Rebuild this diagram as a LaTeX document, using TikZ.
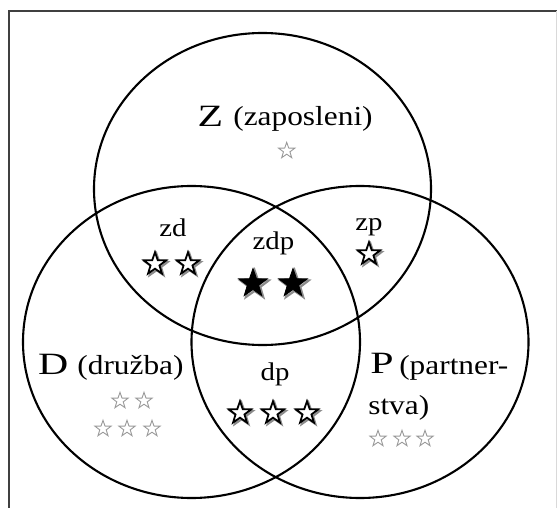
\documentclass[tikz,border=0pt]{standalone}
\usepackage{fontspec}
\usepackage{graphicx}
\setmainfont{Liberation Serif}
\usetikzlibrary{shapes.geometric}
\newcommand\smalltxt[1]{\scalebox{1.14}[1]{\fontsize{27.5}{30}\selectfont #1}}
\newcommand\labtxt[1]{\scalebox{1.13}[1]{\fontsize{25.5}{28}\selectfont #1}}
\newcommand\bigtxt[1]{\scalebox{1.35}[1]{\fontsize{31}{34}\selectfont #1}}
\tikzset{
  setcirc/.style={ellipse, draw=black, line width=2.1pt, minimum width=337pt, minimum height=312pt, inner sep=0pt},
  txt/.style={anchor=base, inner sep=0pt, outer sep=0pt},
  starbase/.style={star, star points=5, star point ratio=2.5, inner sep=0pt, outer sep=0pt},
  graystar/.style={starbase, draw=black!40, line width=0.9pt, fill=white},
  outstar/.style={starbase, draw=black, line width=1.8pt, fill=white},
  blackstar/.style={starbase, draw=black, line width=0.8pt, fill=black},
  shadowstar/.style={starbase, draw=black!45, line width=2pt, fill=black!25},
}
\begin{document}
\begin{tikzpicture}[x=1pt,y=-1pt]
\useasboundingbox (0,0) rectangle (557,508);
\fill[white] (0,0) rectangle (557,508);
% frame
\coordinate (fl) at (8.5,508);
\coordinate (ftl) at (8.5,11);
\coordinate (ftr) at (557,11);
\coordinate (frt) at (556,11);
\coordinate (frb) at (556,508);
\draw[black!75, line width=2pt] (fl) -- (ftl) -- (ftr);
\draw[black!15, line width=0.8pt] (frt) -- (frb);
% circles
\node[setcirc] (Zc) at (262.5,189) {};
\node[setcirc] (Dc) at (191.5,342) {};
\node[setcirc] (Pc) at (360,342) {};
% texts
\node[txt] (Zl) at (210.5,127) {\bigtxt{Z}};
\node[txt] (Zn) at (303,126) {\smalltxt{(zaposleni)}};
\node[txt] (zd) at (173,236.5) {\labtxt{zd}};
\node[txt] (zdp) at (273.5,249) {\labtxt{zdp}};
\node[txt] (zp) at (369,230) {\labtxt{zp}};
\node[txt] (Dl) at (53.3,374) {\bigtxt{D}};
\node[txt] (Dn) at (130.5,374) {\smalltxt{(družba)}};
\node[txt] (Pl) at (382,373) {\bigtxt{P}};
\node[txt] (Pn) at (453.8,374) {\smalltxt{(partner-}};
\node[txt] (Pn2) at (398.8,414) {\smalltxt{stva)}};
\node[txt] (dp) at (275,380) {\labtxt{dp}};
% gray stars
\foreach \n/\x/\y in {z1/286.7/150.8, d1/120/400.8, d2/144/400.8, d3/103/428.8, d4/127/428.8, d5/152/428.8, p1/378/438.8, p2/402/438.8, p3/425/438.8}
  \node[graystar, minimum size=17pt] (g\n) at (\x,\y) {};
% outline stars with shadow
\foreach \n/\x/\y in {zd1/155/264, zd2/188/264, zp1/369/254, dp1/240/413, dp2/273/413, dp3/307/413}{
  \node[shadowstar, minimum size=23.5pt] (s\n) at (\x+1.6,\y+1.6) {};
  \node[outstar, minimum size=23.5pt] (o\n) at (\x,\y) {};
}
% black stars
\foreach \n/\x/\y in {zdp1/253/283.5, zdp2/293/283.5}{
  \node[shadowstar, minimum size=30pt] (s\n) at (\x+1.6,\y+1.6) {};
  \node[blackstar, minimum size=30pt] (b\n) at (\x,\y) {};
}
\end{tikzpicture}
\end{document}
